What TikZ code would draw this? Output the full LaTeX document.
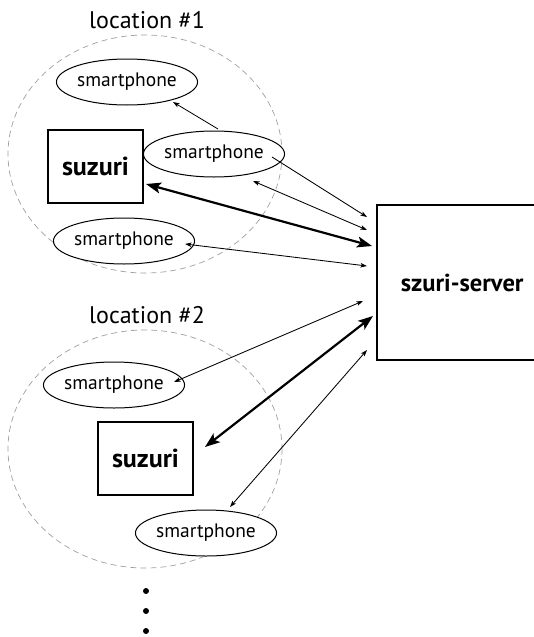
\documentclass[tikz,border=0pt]{standalone}
\usepackage{fontspec}
\setmainfont{PT Sans}
\usetikzlibrary{arrows.meta,calc,shapes.geometric}

\begin{document}
\begin{tikzpicture}[x=1pt,y=-1pt,
  phone/.style={ellipse,draw,line width=1pt,fill=white,inner sep=0pt,
    minimum width=116pt,minimum height=46pt,font=\fontsize{19.5}{19.5}\selectfont},
  hub/.style={rectangle,draw,line width=2.4pt,inner sep=0pt,
    minimum width=95pt,minimum height=73pt,font=\bfseries\fontsize{26}{26}\selectfont},
  zone/.style={draw=gray!75,dash pattern=on 6pt off 4pt,line width=0.7pt},
  title/.style={anchor=base,font=\fontsize{24}{24}\selectfont},
  dot/.style={circle,fill,inner sep=0pt,minimum size=6pt},
  small tip/.tip={Stealth[length=6.5pt,width=4.5pt,inset=1.5pt]},
  big tip/.tip={Stealth[length=15pt,width=11pt,inset=3.5pt]},
  link/.style={line width=0.85pt,-small tip},
  duplex/.style={line width=0.85pt,small tip-small tip},
  trunk/.style={line width=2.2pt,big tip-big tip}]

\useasboundingbox (0,0) rectangle (534,637);
\clip (0,0) rectangle (534,637);

% the two sites
\draw[zone] (145,154) ellipse [x radius=137, y radius=119];
\draw[zone] (145,449) ellipse [x radius=137, y radius=119];

\node[title] (loc1) at (147,28) {location \#1};
\node[title] (loc2) at (147,323) {location \#2};

% devices of the first site
\node[phone] (p1) at (127,82) {smartphone};
\node[phone] (p2) at (214,154) {smartphone};
\node[phone] (p3) at (124,241) {smartphone};
\node[hub] (h1) at (95.5,166.5) {suzuri};

% devices of the second site
\node[phone] (p4) at (114,385) {smartphone};
\node[phone] (p5) at (206,533) {smartphone};
\node[hub] (h2) at (145.5,458.5) {suzuri};

% central server (its right side runs off the page)
\node[rectangle,draw,line width=2.4pt,anchor=west,inner sep=0pt,
  minimum width=170pt,minimum height=155pt,
  font=\bfseries\fontsize{24.5}{24.5}\selectfont] (server) at (376,282.5) {szuri-server};

% more sites follow
\node[dot] (d1) at (146,591) {};
\node[dot] (d2) at (146,611) {};
\node[dot] (d3) at (146,631) {};

% links of the first site
\draw[link]   ($(p2)+(4,-25)$) -- ($(p1)+(46,20)$);
\draw[link]   ($(p2)+(58,3)$) -- ($(server.west)+(-9,-65.5)$);
\draw[duplex] ($(p2)+(39,27)$) -- ($(server.west)+(-9,-52.5)$);
\draw[trunk]  ($(h1)+(50.5,17.5)$) -- ($(server.west)+(-4,-36.5)$);
\draw[duplex] ($(p3)+(61,3)$) -- ($(server.west)+(-9,-16.5)$);

% links of the second site
\draw[duplex] ($(p4)+(60,-3)$) -- ($(server.west)+(-13,18.5)$);
\draw[trunk]  ($(h2)+(59.5,-11.5)$) -- ($(server.west)+(-3,33.5)$);
\draw[duplex] ($(p5)+(24,-26)$) -- ($(server.west)+(-9,67.5)$);

\end{tikzpicture}
\end{document}
